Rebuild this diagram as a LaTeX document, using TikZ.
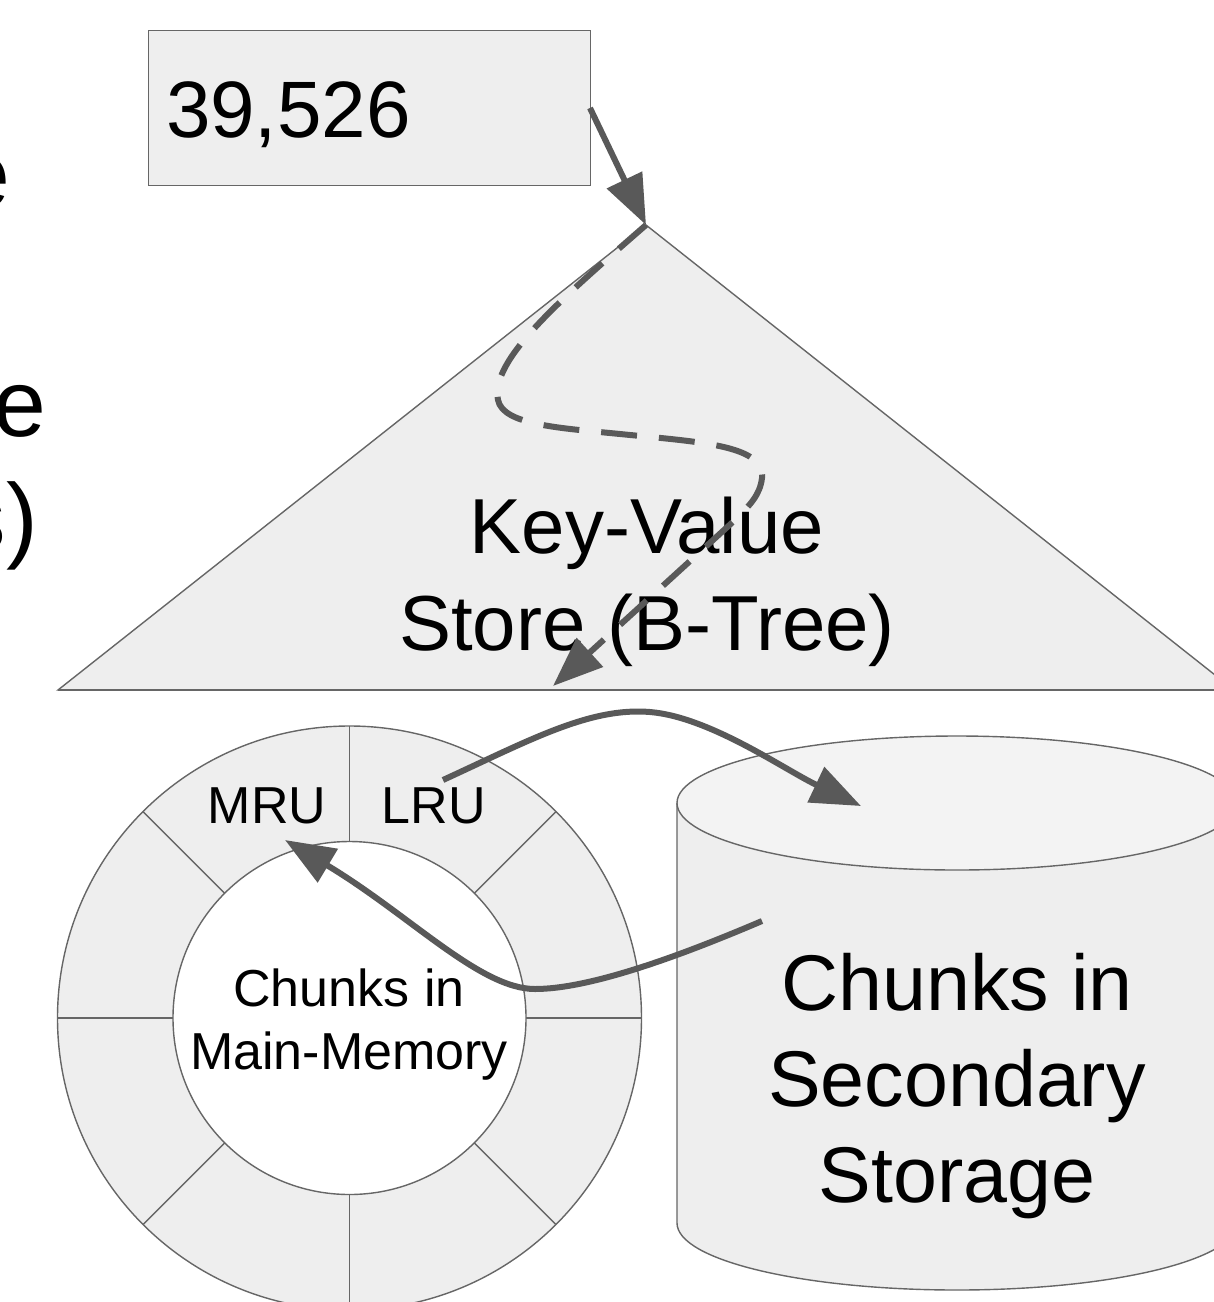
\documentclass[tikz,border=0pt]{standalone}
\usepackage{fontspec}
\setmainfont{Liberation Sans}
\usetikzlibrary{arrows.meta}
\definecolor{shapefill}{HTML}{EEEEEE}
\definecolor{topfill}{HTML}{F3F3F3}
\definecolor{edgec}{HTML}{666666}
\definecolor{arrowc}{HTML}{595959}
\begin{document}
\begin{tikzpicture}[x=1pt,y=1pt,
  outline/.style={draw=edgec,line width=1.4pt},
  flow/.style={draw=arrowc,line width=6pt,-{Triangle[length=50pt,width=38pt]}},
  dashflow/.style={flow,dash pattern=on 36pt off 22pt},
  lbl/.style={inner sep=0pt,outer sep=0pt,text=black},
  bigfont/.style={font=\fontsize{79}{96}\selectfont},
  smallfont/.style={font=\fontsize{52}{63}\selectfont}]
\useasboundingbox (0,0) rectangle (1214,-1302);
\clip (0,0) rectangle (1214,-1302);

% cut-off text at the left edge
\node[lbl,anchor=base east,font=\fontsize{95}{114}\selectfont] (fragA) at (10.5,-207) {e};
\node[lbl,anchor=base east,font=\fontsize{95}{114}\selectfont] (fragB) at (46.5,-436) {e};
\node[lbl,anchor=base east,font=\fontsize{95}{114}\selectfont] (fragC) at (38,-550) {s)};

% key box
\node[outline,fill=shapefill,minimum width=442pt,minimum height=155pt,anchor=north west,inner sep=0pt] (keybox) at (148,-30) {};
\node[lbl,anchor=base west,font=\fontsize{80}{96}\selectfont] (keytext) at (166,-137) {39,526};

% B-tree triangle
\coordinate (apex) at (646,-225);
\draw[outline,fill=shapefill] (apex) -- (58,-690) -- (1234,-690) -- cycle;
\draw[draw=edgec,line width=2pt] (58,-690) -- (1234,-690);
\node[lbl,align=center,anchor=base,font=\fontsize{78}{97}\selectfont] (kvtext) at (647,-650) {Key-Value\\Store (B-Tree)};

% ring buffer
\coordinate (ringc) at (349.5,-1018);
\draw[outline,fill=shapefill] (ringc) circle[radius=292pt];
\foreach \a in {0,45,...,315}
  \draw[outline] ([shift={(\a:176)}]ringc) -- ([shift={(\a:292)}]ringc);
\node[circle,outline,fill=white,minimum size=353pt,inner sep=0pt] (inner) at (ringc) {};
\node[lbl,align=center,anchor=base,smallfont] (innertext) at (349,-1069) {Chunks in\\Main-Memory};
\node[lbl,anchor=base,smallfont] (mru) at (267,-823) {MRU};
\node[lbl,anchor=base,smallfont] (lru) at (434,-823) {LRU};

% cylinder
\fill[shapefill] (677,-803) -- (677,-1223) arc[start angle=180,end angle=360,x radius=280pt,y radius=67pt] -- (1237,-803) -- cycle;
\draw[outline] (677,-803) -- (677,-1223) arc[start angle=180,end angle=360,x radius=280pt,y radius=67pt] -- (1237,-803);
\draw[outline,fill=topfill] (957,-803) ellipse[x radius=280pt,y radius=67pt];
\node[lbl,align=center,anchor=base,bigfont] (cyltext) at (957,-1202) {Chunks in\\Secondary\\Storage};

% connectors
\coordinate (keyout) at (590,-108);
\draw[flow] (keyout) -- (apex);

\coordinate (dashend) at (553,-686);
\draw[dashflow] (apex) .. controls (560,-300) and (490,-360) .. (498,-400)
  .. controls (503,-425) and (560,-428) .. (620,-434)
  .. controls (700,-442) and (765,-445) .. (762,-478)
  .. controls (760,-495) and (750,-505) .. (735,-520) -- (dashend);

\coordinate (lruout) at (443,-780);
\coordinate (cylin) at (861,-806);
\draw[flow] (lruout) .. controls (530,-740) and (590,-707) .. (650,-712)
  .. controls (710,-717) and (785,-770) .. (cylin);

\coordinate (cylout) at (762,-921);
\coordinate (mruin) at (285,-840);
\draw[flow] (cylout) .. controls (680,-956) and (590,-989) .. (535,-989)
  .. controls (480,-989) and (410,-915) .. (mruin);
\end{tikzpicture}
\end{document}
